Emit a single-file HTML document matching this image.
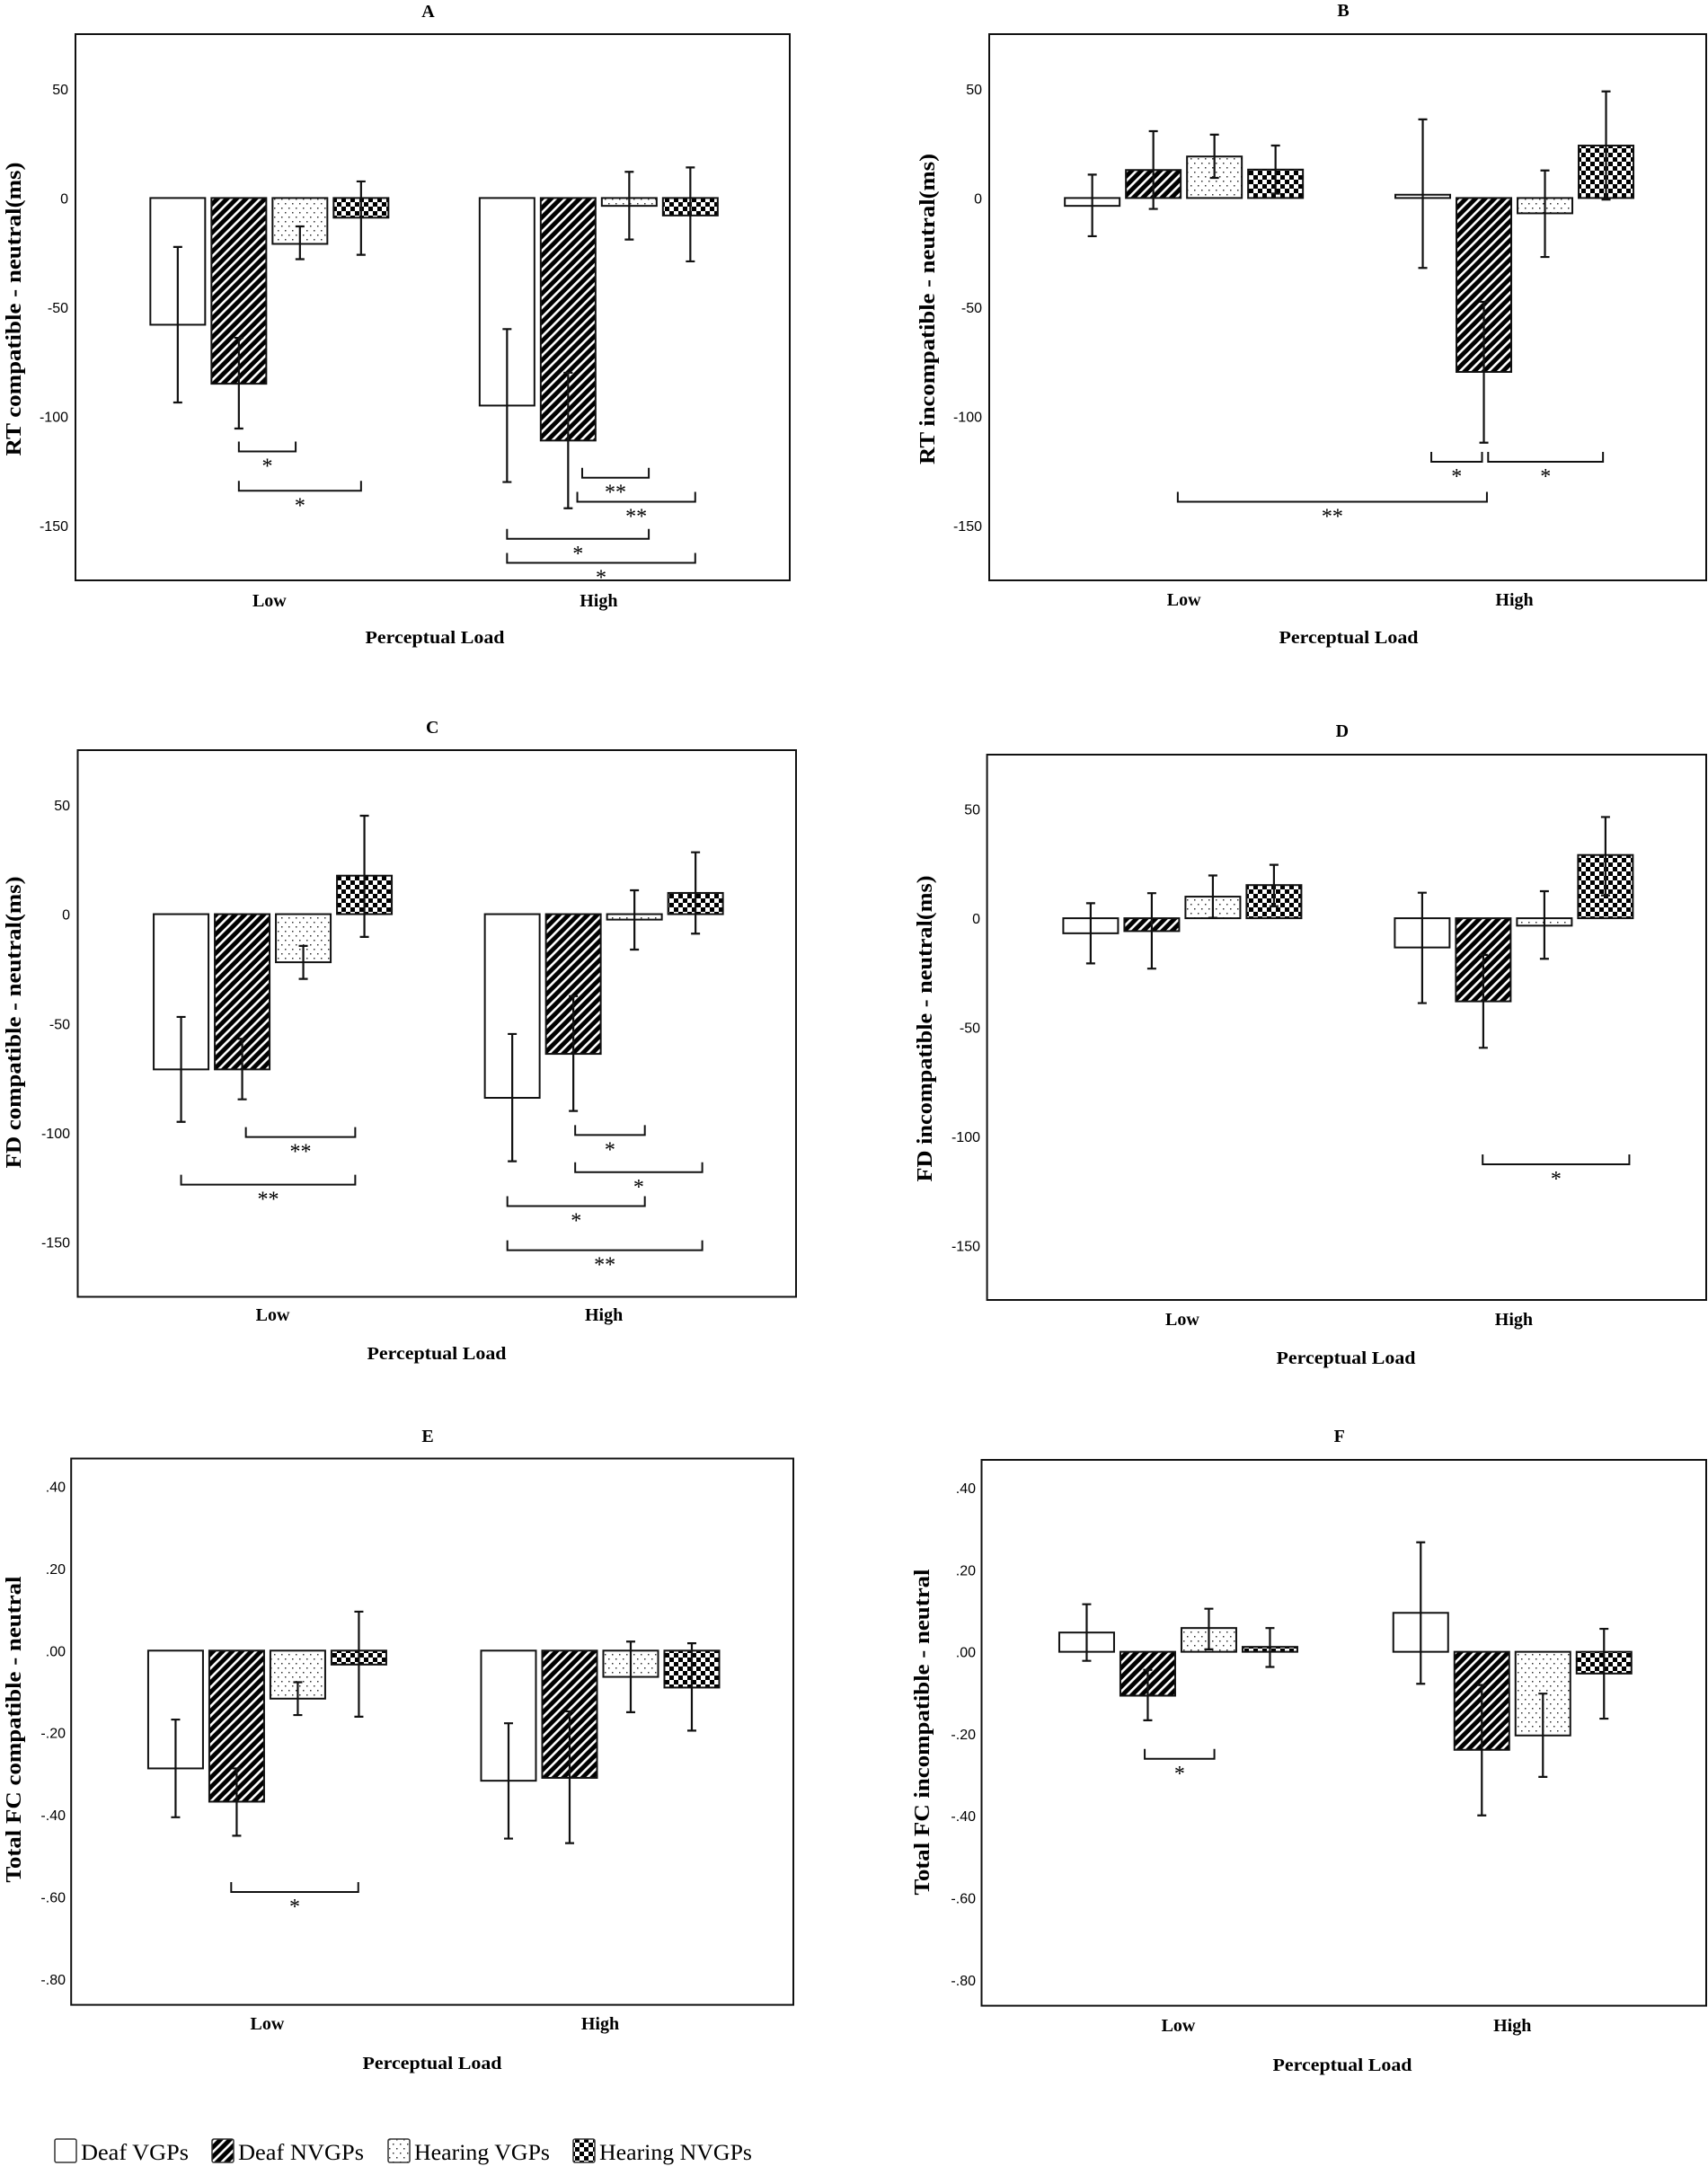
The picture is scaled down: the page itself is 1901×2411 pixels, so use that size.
<!DOCTYPE html>
<html><head><meta charset="utf-8"><style>
html,body{margin:0;padding:0;background:#fff;}
svg{display:block;}
text{fill:#000;}
.tick{font-family:"Liberation Sans Narrow","Liberation Sans",sans-serif;font-size:16px;}
.ttl{font-family:"Liberation Serif",serif;font-size:20px;font-weight:bold;}
.ytl{font-family:"Liberation Serif",serif;font-size:24px;font-weight:bold;}
.cat{font-family:"Liberation Serif",serif;font-size:20px;font-weight:bold;}
.star{font-family:"Liberation Serif",serif;font-size:24px;}
.leg{font-family:"Liberation Serif",serif;font-size:25px;}
</style></head><body>
<svg id="fig" width="1901" height="2411" viewBox="0 0 1901 2411" xmlns="http://www.w3.org/2000/svg">
<defs>
<pattern id="pHatch" patternUnits="userSpaceOnUse" width="7.5" height="7.5" patternTransform="rotate(45)">
<rect width="7.5" height="7.5" fill="#000"/><rect x="0" y="0" width="2.6" height="7.5" fill="#fff"/>
</pattern>
<pattern id="pDots" patternUnits="userSpaceOnUse" width="8" height="10">
<rect width="8" height="10" fill="#fff"/><rect x="1" y="1" width="1.5" height="1.5" fill="#333"/><rect x="5" y="6" width="1.5" height="1.5" fill="#333"/>
</pattern>
<pattern id="pCheck" patternUnits="userSpaceOnUse" width="10" height="10">
<rect width="10" height="10" fill="#fff"/><rect x="0" y="0" width="5" height="5" fill="#000"/><rect x="5" y="5" width="5" height="5" fill="#000"/>
</pattern>
</defs>
<g id="panels"></g>
<g id="legend"></g>
</svg>
<script>
const categories = ['Low', 'High'];
const groups = ['Deaf VGPs', 'Deaf NVGPs', 'Hearing VGPs', 'Hearing NVGPs'];
const fills = ['#fff', 'url(#pHatch)', 'url(#pDots)', 'url(#pCheck)'];

const rtTicks = [50, 0, -50, -100, -150];
const fcTicks = [0.4, 0.2, 0, -0.2, -0.4, -0.6, -0.8];
const fcTickLabels = ['.40', '.20', '.00', '-.20', '-.40', '-.60', '-.80'];

// Panel A
const A_low = [-58, -85, -21, -9];
const A_high = [-95, -111, -3.6, -8];
const A_lowTop = [-22.4, -64, -13, 7.6];
const A_lowBot = [-93.6, -105.5, -28, -26];
const A_highTop = [-60, -80, 12, 14];
const A_highBot = [-130, -142, -19, -29];
const A_brackets = [[0,1,0,1.93,-116,'*'],[0,1,0,3,-134,'*'],[1,1.23,1,2.32,-128,'**'],[1,1.15,1,3.08,-139,'**'],[1,0,1,2.32,-156,'*'],[1,0,1,3.08,-167,'*']];
// Panel B
const B_low = [-3.6, 12.8, 19, 13];
const B_high = [1.5, -79.6, -7, 24];
const B_lowTop = [10.7, 30.6, 29, 24];
const B_lowBot = [-17.5, -5, 9.2, 2];
const B_highTop = [36, -47.5, 12.6, 48.8];
const B_highBot = [-32, -112, -27, -0.7];
const B_brackets = [[1,0.14,1,0.97,-120.7,'*'],[1,1.07,1,2.95,-120.7,'*'],[0,1.4,1,1.05,-139,'**']];
// Panel C
const C_low = [-71, -71, -22, 17.6];
const C_high = [-84, -63.9, -2.5, 9.7];
const C_lowTop = [-47, -57, -14.5, 45];
const C_lowBot = [-95, -84.7, -29.6, -10.4];
const C_highTop = [-54.8, -37.5, 10.9, 28.3];
const C_highBot = [-113, -90, -16.2, -8.9];
const C_brackets = [[0,1.06,0,2.85,-101.9,'**'],[0,0,0,2.85,-123.7,'**'],[1,1.03,1,2.17,-101,'*'],[1,1.03,1,3.11,-118,'*'],[1,-0.08,1,2.17,-133.5,'*'],[1,-0.08,1,3.11,-153.7,'**']];
// Panel D
const D_low = [-6.9, -5.9, 9.9, 15.2];
const D_high = [-13.4, -38.1, -3.4, 29];
const D_lowTop = [6.9, 11.5, 19.6, 24.5];
const D_lowBot = [-20.7, -23.1, 0.2, 5.5];
const D_highTop = [11.7, -16.8, 12.4, 46.4];
const D_highBot = [-38.9, -59.4, -18.6, 10.5];
const D_brackets = [[1,0.99,1,3.39,-112.8,'*']];
// Panel E
const E_low = [-0.287, -0.368, -0.117, -0.034];
const E_high = [-0.317, -0.310, -0.064, -0.090];
const E_lowTop = [-0.168, -0.287, -0.077, 0.095];
const E_lowBot = [-0.406, -0.451, -0.157, -0.161];
const E_highTop = [-0.177, -0.148, 0.022, 0.018];
const E_highBot = [-0.458, -0.469, -0.150, -0.195];
const E_brackets = [[0,0.91,0,2.99,-0.588,'*']];
// Panel F
const F_low = [0.047, -0.107, 0.058, 0.012];
const F_high = [0.095, -0.239, -0.204, -0.053];
const F_lowTop = [0.116, -0.044, 0.105, 0.058];
const F_lowBot = [-0.022, -0.167, 0.006, -0.037];
const F_highTop = [0.267, -0.081, -0.102, 0.056];
const F_highBot = [-0.078, -0.399, -0.305, -0.163];
const F_brackets = [[0,0.95,0,2.09,-0.261,'*']];

const NS = 'http://www.w3.org/2000/svg';
function mk(parent, tag, attrs, txt) {
  const e = document.createElementNS(NS, tag);
  for (const k in attrs) e.setAttribute(k, attrs[k]);
  if (txt !== undefined) e.textContent = txt;
  parent.appendChild(e);
  return e;
}

const panels = [
  {id:'a', title:'A', ylab:'RT compatible - neutral(ms)', ylabLen:327, x0:84, x1:879, y0:38, y1:646, dmin:-175, dmax:75, ticks:rtTicks, tickLabels:rtTicks.map(String), tickX:76, titleY:19, ylabX:15, ylabY:344, catY:675, plY:716, plX:484,
    low:A_low, high:A_high, lowTop:A_lowTop, lowBot:A_lowBot, highTop:A_highTop, highBot:A_highBot, br:A_brackets},
  {id:'b', title:'B', ylab:'RT incompatible - neutral(ms)', ylabLen:346, x0:1101, x1:1899, y0:38, y1:646, dmin:-175, dmax:75, ticks:rtTicks, tickLabels:rtTicks.map(String), tickX:1093, titleY:18, ylabX:1032, ylabY:344, catY:674, plY:716, plX:1501,
    low:B_low, high:B_high, lowTop:B_lowTop, lowBot:B_lowBot, highTop:B_highTop, highBot:B_highBot, br:B_brackets},
  {id:'c', title:'C', ylab:'FD compatible - neutral(ms)', ylabLen:325, x0:86.5, x1:886, y0:835, y1:1443.5, dmin:-175, dmax:75, ticks:rtTicks, tickLabels:rtTicks.map(String), tickX:78, titleY:816, ylabX:15, ylabY:1138, catY:1470, plY:1513, plX:486,
    low:C_low, high:C_high, lowTop:C_lowTop, lowBot:C_lowBot, highTop:C_highTop, highBot:C_highBot, br:C_brackets},
  {id:'d', title:'D', ylab:'FD incompatible - neutral(ms)', ylabLen:341, x0:1098.6, x1:1899, y0:840, y1:1447, dmin:-175, dmax:75, ticks:rtTicks, tickLabels:rtTicks.map(String), tickX:1091, titleY:820, ylabX:1029, ylabY:1145, catY:1475, plY:1518, plX:1498,
    low:D_low, high:D_high, lowTop:D_lowTop, lowBot:D_lowBot, highTop:D_highTop, highBot:D_highBot, br:D_brackets},
  {id:'e', title:'E', ylab:'Total FC compatible - neutral', ylabLen:341, x0:79.2, x1:883, y0:1623.5, y1:2231.6, dmin:-0.863, dmax:0.468, ticks:fcTicks, tickLabels:fcTickLabels, tickX:73, titleY:1605, ylabX:15, ylabY:1925, catY:2259, plY:2303, plX:481,
    low:E_low, high:E_high, lowTop:E_lowTop, lowBot:E_lowBot, highTop:E_highTop, highBot:E_highBot, br:E_brackets},
  {id:'f', title:'F', ylab:'Total FC incompatible - neutral', ylabLen:363, x0:1092.5, x1:1899, y0:1625, y1:2232.6, dmin:-0.863, dmax:0.468, ticks:fcTicks, tickLabels:fcTickLabels, tickX:1086, titleY:1605, ylabX:1026, ylabY:1928, catY:2261, plY:2305, plX:1494,
    low:F_low, high:F_high, lowTop:F_lowTop, lowBot:F_lowBot, highTop:F_highTop, highBot:F_highBot, br:F_brackets}
];

const root = document.getElementById('panels');
const BW = 61, STEP = 68;
panels.forEach(p => {
  const g = mk(root, 'g', {});
  
  
  const w = p.x1 - p.x0;
  const yS = v => p.y0 + (p.dmax - v) / (p.dmax - p.dmin) * (p.y1 - p.y0);
  const catC = c => p.x0 + w * (c === 0 ? 0.2715 : 0.7325);
  const barC = (c, i) => catC(c) - 132.5 + BW / 2 + STEP * i;

  const t = mk(g, 'text', {x: (p.x0 + p.x1) / 2 - 5, y: p.titleY, 'text-anchor': 'middle', class: 'ttl'}, p.title);
  
  

  const fr = mk(g, 'rect', {x: p.x0, y: p.y0, width: w, height: p.y1 - p.y0, fill: 'none', stroke: '#111', 'stroke-width': 2});
  
  

  p.ticks.forEach((v, k) => {
    const tl = mk(g, 'text', {x: p.tickX, y: yS(v) + 6, 'text-anchor': 'end', class: 'tick'}, p.tickLabels[k]);
    
    
  });

  const yl = mk(g, 'text', {x: 0, y: 0, 'text-anchor': 'middle', class: 'ytl', transform: 'translate(' + (p.ylabX + 8) + ',' + p.ylabY + ') rotate(-90)', textLength: p.ylabLen, lengthAdjust: 'spacingAndGlyphs'}, p.ylab);
  
  

  categories.forEach((c, ci) => {
    const cl = mk(g, 'text', {x: catC(ci), y: p.catY, 'text-anchor': 'middle', class: 'cat'}, c);
    
    
  });
  const pl = mk(g, 'text', {x: p.plX, y: p.plY, 'text-anchor': 'middle', class: 'cat', textLength: 155, lengthAdjust: 'spacingAndGlyphs'}, 'Perceptual Load');
  
  

  const sets = [[p.low, p.lowTop, p.lowBot], [p.high, p.highTop, p.highBot]];
  sets.forEach((s, ci) => {
    s[0].forEach((v, i) => {
      const cx = barC(ci, i);
      const ya = yS(v), yz = yS(0);
      const r = mk(g, 'rect', {x: cx - BW / 2, y: Math.min(ya, yz), width: BW, height: Math.max(Math.abs(ya - yz), 1.5), fill: fills[i], stroke: '#111', 'stroke-width': 2});
      
      
      const yt = yS(s[1][i]), yb = yS(s[2][i]);
      const eb = mk(g, 'path', {d: 'M' + cx + ' ' + yt + 'V' + yb + 'M' + (cx - 5) + ' ' + yt + 'H' + (cx + 5) + 'M' + (cx - 5) + ' ' + yb + 'H' + (cx + 5), stroke: '#111', 'stroke-width': 2.2, fill: 'none'});
      
      
    });
  });

  p.br.forEach(b => {
    const xa = barC(b[0], b[1]), xb = barC(b[2], b[3]), y = yS(b[4]);
    const bp = mk(g, 'path', {d: 'M' + xa + ' ' + (y - 11) + 'V' + y + 'H' + xb + 'V' + (y - 11), stroke: '#111', 'stroke-width': 2, fill: 'none'});
    
    
    const st = mk(g, 'text', {x: (xa + xb) / 2, y: y + 24, 'text-anchor': 'middle', class: 'star'}, b[5]);
    
    
  });
});

const leg = document.getElementById('legend');
const legBoxX = [61, 236, 432, 638];
const legTextX = [90, 265, 461, 667];
const legTextLen = [120, 140, 151, 170];
groups.forEach((gname, i) => {
  const item = mk(leg, 'g', {});
  
  
  mk(item, 'rect', {x: legBoxX[i], y: 2381, width: 24, height: 26, fill: fills[i], stroke: '#333', 'stroke-width': 1.5, rx: 2});
  mk(item, 'text', {x: legTextX[i], y: 2404, class: 'leg', textLength: legTextLen[i], lengthAdjust: 'spacingAndGlyphs'}, gname);
});
</script>
</body></html>
